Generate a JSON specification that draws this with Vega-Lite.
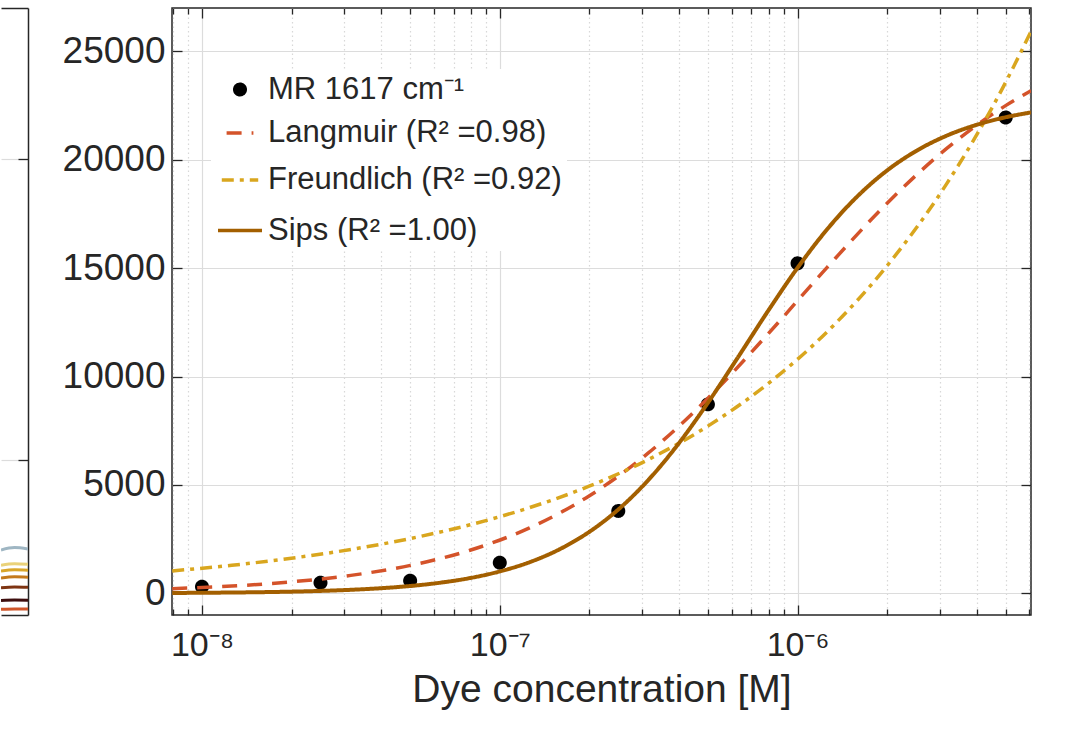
{
  "$schema": "https://vega.github.io/schema/vega-lite/v6.json",
  "background": "white",
  "padding": {"left": 0, "top": 6, "right": 0, "bottom": 0},
  "bounds": "flush",
  "spacing": 144,
  "resolve": {
    "scale": {"color": "independent", "stroke": "independent", "fill": "independent", "shape": "independent", "size": "independent", "strokeDash": "independent"},
    "legend": {"color": "independent", "stroke": "independent", "fill": "independent", "shape": "independent", "size": "independent", "strokeDash": "independent"}
  },
  "config": {
    "font": "Liberation Sans",
    "view": {"stroke": "#262626", "strokeWidth": 1.5},
    "axis": {
      "labelColor": "#262626", "titleColor": "#262626", "tickColor": "#262626",
      "tickWidth": 1.3, "gridColor": "#DCDCDC", "gridWidth": 1.2, "domain": false,
      "labelFont": "Liberation Sans", "titleFont": "Liberation Sans", "titleFontWeight": "normal"
    },
    "legend": {
      "orient": "none", "legendX": 39, "legendY": 61, "title": null,
      "fillColor": "white", "padding": 5, "rowPadding": 11.5,
      "labelFontSize": 31, "labelColor": "#262626", "labelFont": "Liberation Sans",
      "labelLimit": 500, "labelOffset": 4, "symbolStrokeWidth": 3.5
    }
  },
  "datasets": {
    "points": [
      {"series": "MR", "c": 1e-8, "q": 305},
      {"series": "MR", "c": 2.5e-8, "q": 489},
      {"series": "MR", "c": 5e-8, "q": 582},
      {"series": "MR", "c": 1e-7, "q": 1412},
      {"series": "MR", "c": 2.5e-7, "q": 3798},
      {"series": "MR", "c": 5e-7, "q": 8717},
      {"series": "MR", "c": 1e-6, "q": 15224},
      {"series": "MR", "c": 5e-6, "q": 21948}
    ],
    "fits": [
      {"series": "Langmuir", "c": 7.943e-9, "q": 213},
      {"series": "Langmuir", "c": 1.259e-8, "q": 336},
      {"series": "Langmuir", "c": 1.995e-8, "q": 528},
      {"series": "Langmuir", "c": 3.162e-8, "q": 828},
      {"series": "Langmuir", "c": 5.012e-8, "q": 1289},
      {"series": "Langmuir", "c": 7.943e-8, "q": 1987},
      {"series": "Langmuir", "c": 1.259e-7, "q": 3019},
      {"series": "Langmuir", "c": 1.995e-7, "q": 4491},
      {"series": "Langmuir", "c": 3.162e-7, "q": 6486},
      {"series": "Langmuir", "c": 5.012e-7, "q": 9014},
      {"series": "Langmuir", "c": 7.943e-7, "q": 11952},
      {"series": "Langmuir", "c": 1.259e-6, "q": 15048},
      {"series": "Langmuir", "c": 1.995e-6, "q": 17985},
      {"series": "Langmuir", "c": 3.162e-6, "q": 20513},
      {"series": "Langmuir", "c": 5.012e-6, "q": 22509},
      {"series": "Langmuir", "c": 6.081e-6, "q": 23187},
      {"series": "Freundlich", "c": 7.943e-9, "q": 1035},
      {"series": "Freundlich", "c": 1.259e-8, "q": 1294},
      {"series": "Freundlich", "c": 1.995e-8, "q": 1618},
      {"series": "Freundlich", "c": 3.162e-8, "q": 2023},
      {"series": "Freundlich", "c": 5.012e-8, "q": 2529},
      {"series": "Freundlich", "c": 7.943e-8, "q": 3161},
      {"series": "Freundlich", "c": 1.259e-7, "q": 3953},
      {"series": "Freundlich", "c": 1.995e-7, "q": 4941},
      {"series": "Freundlich", "c": 3.162e-7, "q": 6179},
      {"series": "Freundlich", "c": 5.012e-7, "q": 7725},
      {"series": "Freundlich", "c": 7.943e-7, "q": 9659},
      {"series": "Freundlich", "c": 1.259e-6, "q": 12074},
      {"series": "Freundlich", "c": 1.995e-6, "q": 15098},
      {"series": "Freundlich", "c": 3.162e-6, "q": 18875},
      {"series": "Freundlich", "c": 5.012e-6, "q": 23606},
      {"series": "Freundlich", "c": 6.081e-6, "q": 25924},
      {"series": "Sips", "c": 7.943e-9, "q": 17},
      {"series": "Sips", "c": 1e-8, "q": 25},
      {"series": "Sips", "c": 1.259e-8, "q": 37},
      {"series": "Sips", "c": 1.585e-8, "q": 53},
      {"series": "Sips", "c": 1.995e-8, "q": 77},
      {"series": "Sips", "c": 2.512e-8, "q": 112},
      {"series": "Sips", "c": 3.162e-8, "q": 162},
      {"series": "Sips", "c": 3.981e-8, "q": 235},
      {"series": "Sips", "c": 5.012e-8, "q": 339},
      {"series": "Sips", "c": 6.31e-8, "q": 490},
      {"series": "Sips", "c": 7.943e-8, "q": 704},
      {"series": "Sips", "c": 1e-7, "q": 1010},
      {"series": "Sips", "c": 1.259e-7, "q": 1436},
      {"series": "Sips", "c": 1.585e-7, "q": 2027},
      {"series": "Sips", "c": 1.995e-7, "q": 2830},
      {"series": "Sips", "c": 2.512e-7, "q": 3891},
      {"series": "Sips", "c": 3.162e-7, "q": 5245},
      {"series": "Sips", "c": 3.981e-7, "q": 6898},
      {"series": "Sips", "c": 5.012e-7, "q": 8813},
      {"series": "Sips", "c": 6.31e-7, "q": 10892},
      {"series": "Sips", "c": 7.943e-7, "q": 13007},
      {"series": "Sips", "c": 1e-6, "q": 15016},
      {"series": "Sips", "c": 1.259e-6, "q": 16803},
      {"series": "Sips", "c": 1.585e-6, "q": 18301},
      {"series": "Sips", "c": 1.995e-6, "q": 19498},
      {"series": "Sips", "c": 2.512e-6, "q": 20419},
      {"series": "Sips", "c": 3.162e-6, "q": 21106},
      {"series": "Sips", "c": 3.981e-6, "q": 21605},
      {"series": "Sips", "c": 5.012e-6, "q": 21964},
      {"series": "Sips", "c": 6.081e-6, "q": 22183}
    ],
    "left": [
      {"k": "a", "x": 0, "v": 10.7}, {"k": "a", "x": 0.5, "v": 11.1}, {"k": "a", "x": 1, "v": 10.85},
      {"k": "b", "x": 0, "v": 8.2}, {"k": "b", "x": 0.5, "v": 8.45}, {"k": "b", "x": 1, "v": 8.35},
      {"k": "c", "x": 0, "v": 7.25}, {"k": "c", "x": 0.5, "v": 7.45}, {"k": "c", "x": 1, "v": 7.38},
      {"k": "d", "x": 0, "v": 6.1}, {"k": "d", "x": 0.5, "v": 6.3}, {"k": "d", "x": 1, "v": 6.22},
      {"k": "e", "x": 0, "v": 4.5}, {"k": "e", "x": 0.5, "v": 4.62}, {"k": "e", "x": 1, "v": 4.58},
      {"k": "f", "x": 0, "v": 2.4}, {"k": "f", "x": 0.5, "v": 2.48}, {"k": "f", "x": 1, "v": 2.45},
      {"k": "g", "x": 0, "v": 0.95}, {"k": "g", "x": 0.5, "v": 1.0}, {"k": "g", "x": 1, "v": 0.98}
    ]
  },
  "hconcat": [
    {
      "width": 27,
      "height": 607,
      "view": {"stroke": "transparent"},
      "data": {"name": "left"},
      "resolve": {"axis": {"x": "independent", "y": "independent"}},
      "layer": [
        {
          "mark": {"type": "line", "interpolate": "monotone", "strokeWidth": 3, "clip": true},
          "encoding": {
            "x": {"field": "x", "type": "quantitative", "scale": {"domain": [0, 1]},
                  "axis": {"orient": "bottom", "domain": true, "domainColor": "#262626", "domainWidth": 1.5, "ticks": false, "labels": false, "grid": false, "title": null}},
            "y": {"field": "v", "type": "quantitative", "scale": {"domain": [0, 100], "nice": false},
                  "axis": {"orient": "right", "domain": true, "domainColor": "#262626", "domainWidth": 1.5, "ticks": false, "labels": false, "grid": false, "title": null}},
            "color": {"field": "k", "type": "nominal",
                      "scale": {"domain": ["a", "b", "c", "d", "e", "f", "g"],
                                "range": ["#9FB6C3", "#EAD27A", "#D9A62A", "#C47A1C", "#7E3412", "#3E0E0E", "#D0562A"]},
                      "legend": null}
          }
        },
        {
          "mark": {"type": "line", "opacity": 0},
          "encoding": {
            "x": {"field": "x", "type": "quantitative",
                  "axis": {"orient": "top", "domain": true, "domainColor": "#262626", "domainWidth": 1.5, "ticks": false, "labels": false, "grid": false, "title": null}},
            "y": {"field": "v", "type": "quantitative",
                  "axis": {"orient": "right", "values": [25.5, 75.1], "offset": -10, "tickSize": 10, "labels": false, "grid": true, "title": null}},
            "detail": {"field": "k"}
          }
        }
      ]
    },
    {
      "width": 859,
      "height": 607,
      "resolve": {"axis": {"x": "independent", "y": "independent"}},
      "layer": [
        {
          "data": {"name": "points"},
          "mark": {"type": "point", "strokeWidth": 3.5, "opacity": 1, "clip": true},
          "encoding": {
            "x": {"field": "c", "type": "quantitative",
                  "scale": {"type": "log", "domain": [7.93e-9, 6.08e-6], "nice": false},
                  "axis": {"orient": "bottom", "values": [1e-8, 1e-7, 1e-6], "offset": -10, "tickSize": 10,
                           "labelFontSize": 34, "labelPadding": 13,
                           "labelExpr": "datum.value == 1e-8 ? '10⁻⁸' : datum.value == 1e-7 ? '10⁻⁷' : datum.value == 1e-6 ? '10⁻⁶' : ''",
                           "grid": true, "title": "Dye concentration [M]", "titleFontSize": 39, "titlePadding": 8}},
            "y": {"field": "q", "type": "quantitative",
                  "scale": {"domain": [-1000, 27000], "nice": false, "zero": false},
                  "axis": {"orient": "left", "values": [0, 5000, 10000, 15000, 20000, 25000], "offset": -10, "tickSize": 10,
                           "labelFontSize": 37, "labelPadding": 7, "grid": true, "title": null, "format": "d"}},
            "stroke": {"field": "series", "type": "nominal",
                       "scale": {"domain": ["MR", "Langmuir", "Freundlich", "Sips"],
                                 "range": ["#000000", "#D4532A", "#D9A61E", "#A35F00"]},
                       "legend": {"labelExpr": "{'MR': 'MR 1617 cm⁻¹', 'Langmuir': 'Langmuir (R² =0.98)', 'Freundlich': 'Freundlich (R² =0.92)', 'Sips': 'Sips (R² =1.00)'}[datum.label]"}},
            "fill": {"field": "series", "type": "nominal",
                     "scale": {"domain": ["MR", "Langmuir", "Freundlich", "Sips"],
                               "range": ["#000000", "transparent", "transparent", "transparent"]},
                     "legend": {"labelExpr": "{'MR': 'MR 1617 cm⁻¹', 'Langmuir': 'Langmuir (R² =0.98)', 'Freundlich': 'Freundlich (R² =0.92)', 'Sips': 'Sips (R² =1.00)'}[datum.label]"}},
            "shape": {"field": "series", "type": "nominal",
                      "scale": {"domain": ["MR", "Langmuir", "Freundlich", "Sips"],
                                "range": ["circle", "stroke", "stroke", "stroke"]},
                      "legend": {"labelExpr": "{'MR': 'MR 1617 cm⁻¹', 'Langmuir': 'Langmuir (R² =0.98)', 'Freundlich': 'Freundlich (R² =0.92)', 'Sips': 'Sips (R² =1.00)'}[datum.label]"}},
            "size": {"field": "series", "type": "nominal",
                     "scale": {"domain": ["MR", "Langmuir", "Freundlich", "Sips"],
                               "range": [110, 1936, 1936, 1936]},
                     "legend": {"labelExpr": "{'MR': 'MR 1617 cm⁻¹', 'Langmuir': 'Langmuir (R² =0.98)', 'Freundlich': 'Freundlich (R² =0.92)', 'Sips': 'Sips (R² =1.00)'}[datum.label]"}},
            "strokeDash": {"field": "series", "type": "nominal",
                           "scale": {"domain": ["MR", "Langmuir", "Freundlich", "Sips"],
                                     "range": [[1, 0], [15, 10], [12, 6, 4, 6], [1, 0]]},
                           "legend": {"labelExpr": "{'MR': 'MR 1617 cm⁻¹', 'Langmuir': 'Langmuir (R² =0.98)', 'Freundlich': 'Freundlich (R² =0.92)', 'Sips': 'Sips (R² =1.00)'}[datum.label]"}}
          }
        },
        {
          "data": {"name": "fits"},
          "transform": [{"filter": "datum.series === 'Langmuir'"}],
          "mark": {"type": "line", "interpolate": "monotone", "strokeWidth": 3.5, "clip": true},
          "encoding": {
            "x": {"field": "c", "type": "quantitative",
                  "axis": {"orient": "bottom", "values": [8e-9, 9e-9, 2e-8, 3e-8, 4e-8, 5e-8, 6e-8, 7e-8, 8e-8, 9e-8, 2e-7, 3e-7, 4e-7, 5e-7, 6e-7, 7e-7, 8e-7, 9e-7, 2e-6, 3e-6, 4e-6, 5e-6, 6e-6],
                           "offset": -6, "tickSize": 6, "labels": false, "grid": true, "gridDash": [1.5, 3], "gridColor": "#D8D8D8", "title": null}},
            "y": {"field": "q", "type": "quantitative",
                  "axis": {"orient": "right", "values": [0, 5000, 10000, 15000, 20000, 25000], "offset": -10, "tickSize": 10, "labels": false, "grid": false, "title": null}},
            "stroke": {"field": "series", "type": "nominal"},
            "strokeDash": {"field": "series", "type": "nominal"}
          }
        },
        {
          "data": {"name": "fits"},
          "transform": [{"filter": "datum.series === 'Freundlich'"}],
          "mark": {"type": "line", "interpolate": "monotone", "strokeWidth": 3.5, "clip": true},
          "encoding": {
            "x": {"field": "c", "type": "quantitative",
                  "axis": {"orient": "top", "values": [1e-8, 1e-7, 1e-6], "offset": -10, "tickSize": 10, "labels": false, "grid": false, "title": null}},
            "y": {"field": "q", "type": "quantitative", "axis": null},
            "stroke": {"field": "series", "type": "nominal"},
            "strokeDash": {"field": "series", "type": "nominal"}
          }
        },
        {
          "data": {"name": "fits"},
          "transform": [{"filter": "datum.series === 'Sips'"}],
          "mark": {"type": "line", "interpolate": "monotone", "strokeWidth": 4, "clip": true},
          "encoding": {
            "x": {"field": "c", "type": "quantitative",
                  "axis": {"orient": "top", "values": [8e-9, 9e-9, 2e-8, 3e-8, 4e-8, 5e-8, 6e-8, 7e-8, 8e-8, 9e-8, 2e-7, 3e-7, 4e-7, 5e-7, 6e-7, 7e-7, 8e-7, 9e-7, 2e-6, 3e-6, 4e-6, 5e-6, 6e-6],
                           "offset": -6, "tickSize": 6, "labels": false, "grid": false, "title": null}},
            "y": {"field": "q", "type": "quantitative", "axis": null},
            "stroke": {"field": "series", "type": "nominal"},
            "strokeDash": {"field": "series", "type": "nominal"}
          }
        }
      ]
    }
  ]
}
